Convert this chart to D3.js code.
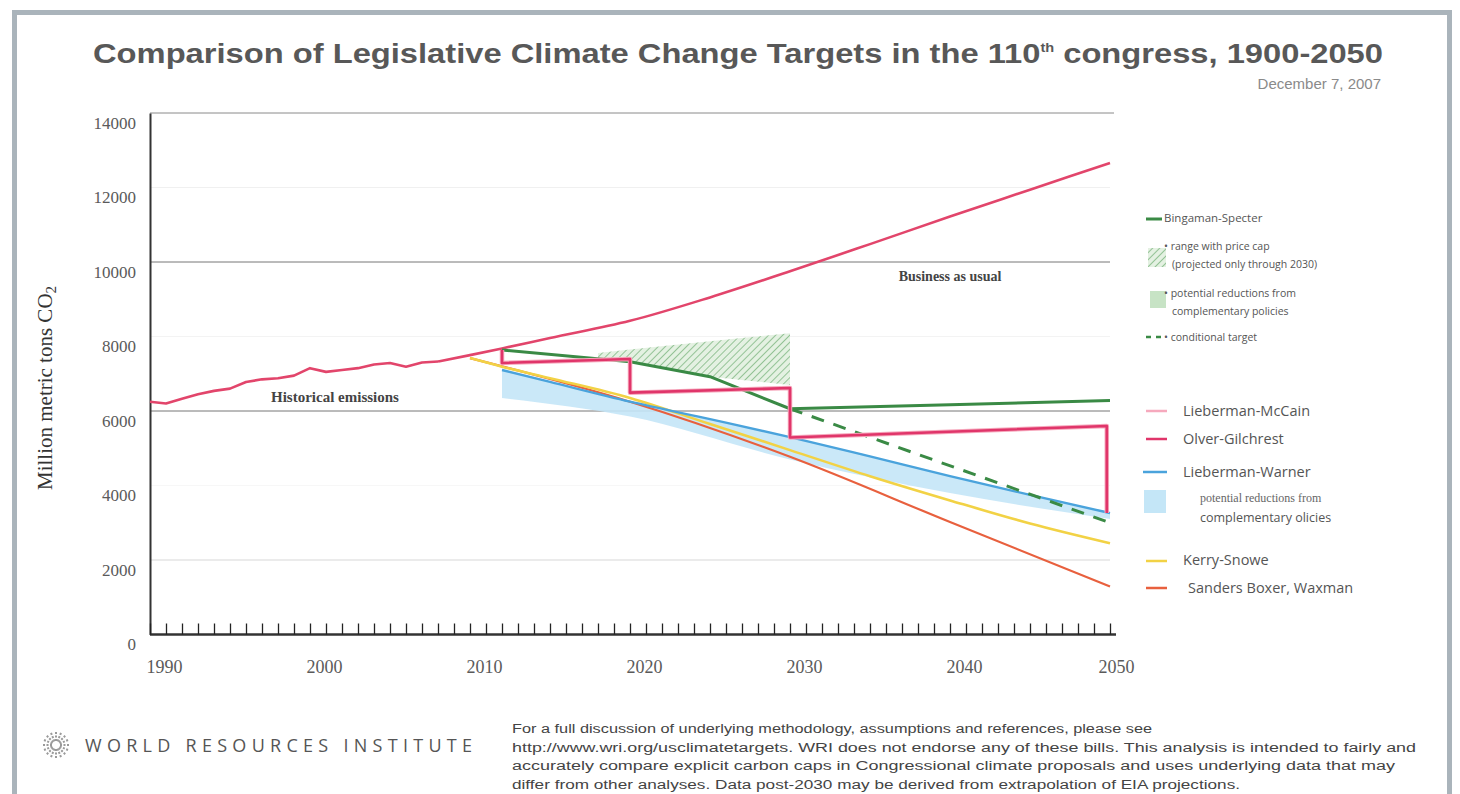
<!DOCTYPE html>
<html>
<head>
<meta charset="utf-8">
<script src="https://cdn.jsdelivr.net/npm/d3@7"></script>
<style>
  html, body { margin: 0; padding: 0; background: #ffffff; }
  svg { display: block; }
</style>
</head>
<body>
<script>
// ---------------- DATA ----------------
const yTicks = [0, 2000, 4000, 6000, 8000, 10000, 12000, 14000];
const xLabelYears = [1990, 2000, 2010, 2020, 2030, 2040, 2050];
const xMinorYears = d3.range(1990, 2051);

const histYears = [1990,1991,1992,1993,1994,1995,1996,1997,1998,1999,2000,2001,2002,2003,2004,2005,2006,2007,2008];
const histValues = [6250,6200,6330,6450,6540,6600,6780,6850,6880,6950,7150,7050,7100,7150,7250,7290,7190,7300,7330];

const bauYears = [2008,2010,2012,2015,2020,2025,2030,2035,2040,2045,2050];
const bauValues = [7330,7500,7680,7960,8420,9050,9750,10480,11220,11940,12660];

const bingYears = [2012,2020,2025,2030,2040,2050];
const bingValues = [7640,7320,6920,6060,6170,6280];

const condYears = [2030,2050];
const condValues = [6060,3000];

const hatchYears = [2018,2020,2025,2030];
const hatchTop = [7560,7650,7870,8090];
const hatchBottom = [7400,7320,6920,6700];

const lmYears = [2012,2012,2020,2020,2030,2030,2049.8,2049.8];
const lmValues = [7640,7290,7396,6492,6617,5290,5597,3262];
const ogYears = [2012,2012,2020,2020,2030,2030,2049.8,2049.8];
const ogValues = [7640,7290,7396,6492,6617,5290,5597,3262];

const lwYears = [2012,2015,2020,2025,2030,2035,2040,2045,2050];
const lwValues = [7100,6780,6250,5780,5300,4780,4250,3750,3260];

const bandYears = [2012,2020,2030,2040,2050];
const bandHigh = [7100,6250,5300,4250,3260];
const bandLow = [6350,5850,4700,3800,3100];

const ksYears = [2010,2012,2015,2020,2025,2030,2035,2040,2045,2050];
const ksValues = [7420,7190,6880,6350,5650,4950,4250,3600,2980,2450];

const sbwYears = [2010,2020,2030,2040,2050];
const sbwValues = [7420,6250,4770,3020,1290];

const footLines = [
  "For a full discussion of underlying methodology, assumptions and references, please see",
  "http://www.wri.org/usclimatetargets.  WRI does not endorse any of these bills. This analysis is intended to fairly and",
  "accurately compare explicit carbon caps in Congressional climate proposals and uses underlying data that may",
  "differ from other analyses.  Data post-2030 may be derived from extrapolation of EIA projections."
];

// ---------------- STYLE ----------------
const C = {
  bau: "#e2456b", green: "#3a8a45", og: "#e0356a", lm: "#f6a9bd",
  blue: "#4aa3dc", band: "#c4e6f7", yellow: "#f2d245", orange: "#e8603e",
  text: "#555", axis: "#333"
};

const W = 1460, H = 794;
const svg = d3.select("body").append("svg").attr("width", W).attr("height", H);

// outer frame
svg.append("rect").attr("x", 14.5).attr("y", 12.5).attr("width", 1435).attr("height", 786)
  .attr("fill", "none").attr("stroke", "#aab4bb").attr("stroke-width", 5);

const x = d3.scaleLinear().domain([1990, 2050]).range([150, 1110]);
const y = d3.scaleLinear().domain([0, 14000]).range([634.5, 113]);

// title
const title = svg.append("text").attr("x", 93).attr("y", 63)
  .attr("font-family", "'Liberation Sans Narrow','Liberation Sans',Arial,sans-serif")
  .attr("font-weight", "bold").attr("font-size", 27).attr("fill", "#585858")
  .attr("textLength", 1290).attr("lengthAdjust", "spacingAndGlyphs");
title.append("tspan").text("Comparison of Legislative Climate Change Targets in the 110");
title.append("tspan").attr("font-size", 12).attr("dy", -11).text("th");
title.append("tspan").attr("dy", 11).text(" congress, 1900-2050");

svg.append("text").attr("x", 1381).attr("y", 89).attr("text-anchor", "end")
  .attr("font-family", "'Liberation Sans Narrow','Liberation Sans',Arial,sans-serif")
  .attr("font-size", 15).attr("fill", "#8a8a8a").text("December 7, 2007");

// defs: hatch pattern
const defs = svg.append("defs");
const pat = defs.append("pattern").attr("id", "hatch").attr("patternUnits", "userSpaceOnUse")
  .attr("width", 5).attr("height", 5).attr("patternTransform", "rotate(45)");
pat.append("rect").attr("width", 5).attr("height", 5).attr("fill", "#e4f1e2");
pat.append("line").attr("x1", 0).attr("y1", 0).attr("x2", 0).attr("y2", 5)
  .attr("stroke", "#7fb883").attr("stroke-width", 1.6);

// gridlines
const g = svg.append("g");
const gridStyle = { 2000: ["#d8d8d8", 1.2], 6000: ["#777", 1], 10000: ["#777", 1], 12000: ["#f0f0f0", 1], 8000: ["#f3f3f3", 1], 4000: ["#f7f7f7", 1] };
g.selectAll("line.grid").data(yTicks.filter(v => gridStyle[v])).join("line")
  .attr("x1", x(1990)).attr("x2", x(2050))
  .attr("y1", d => y(d)).attr("y2", d => y(d))
  .attr("stroke", d => gridStyle[d][0]).attr("stroke-width", d => gridStyle[d][1]);
// top frame line
g.append("line").attr("x1", x(1990)).attr("x2", x(2050) + 4).attr("y1", y(14000)).attr("y2", y(14000))
  .attr("stroke", "#8a8a8a").attr("stroke-width", 1);

// y axis
const yAxis = d3.axisLeft(y).tickValues(yTicks).tickSize(0).tickPadding(14).tickFormat(d3.format("d"));
const yg = svg.append("g").attr("transform", `translate(${x(1990)},0)`).call(yAxis);
yg.select(".domain").attr("stroke", C.axis).attr("stroke-width", 2);
yg.selectAll("text").attr("font-family", "'Liberation Serif','Times New Roman',serif")
  .attr("font-size", 17).attr("fill", "#5a5a5a").attr("dy", "0.9em");

// x axis minor ticks (pointing up)
const xMinor = d3.axisBottom(x).tickValues(xMinorYears).tickSize(-11).tickFormat("");
const xg = svg.append("g").attr("transform", `translate(0,${y(0)})`).call(xMinor);
xg.select(".domain").attr("stroke", C.axis).attr("stroke-width", 2.5).attr("d", `M${x(1990)},0H${x(2050) + 6}`);
xg.selectAll(".tick line").attr("stroke", "#222").attr("stroke-width", 1.3);

const xLab = d3.axisBottom(x).tickValues(xLabelYears).tickSize(0).tickPadding(26).tickFormat(d3.format("d"));
const xl = svg.append("g").attr("transform", `translate(0,${y(0)})`).call(xLab);
xl.select(".domain").remove();
xl.selectAll("text").attr("font-family", "'Liberation Serif','Times New Roman',serif")
  .attr("font-size", 18).attr("fill", "#5a5a5a").attr("dx", d => d === 2050 ? 6 : 14);

// y axis title
svg.append("text").attr("transform", "translate(52,388) rotate(-90)").attr("text-anchor", "middle")
  .attr("font-family", "'Liberation Serif','Times New Roman',serif").attr("font-size", 21)
  .attr("fill", "#333").html("Million metric tons CO<tspan font-size='15' dy='4'>2</tspan>");

const line = d3.line().x(d => x(d[0])).y(d => y(d[1]));
const smooth = d3.line().x(d => x(d[0])).y(d => y(d[1])).curve(d3.curveMonotoneX);

// blue band
svg.append("path").datum(d3.zip(bandYears, bandHigh, bandLow))
  .attr("d", d3.area().x(d => x(d[0])).y0(d => y(d[2])).y1(d => y(d[1])).curve(d3.curveMonotoneX))
  .attr("fill", C.band).attr("opacity", 0.9);

// hatched region
svg.append("path").datum(d3.zip(hatchYears, hatchTop, hatchBottom))
  .attr("d", d3.area().x(d => x(d[0])).y0(d => y(d[2])).y1(d => y(d[1])))
  .attr("fill", "url(#hatch)");

// historical + BAU
svg.append("path").datum(d3.zip(histYears, histValues)).attr("d", line)
  .attr("fill", "none").attr("stroke", C.bau).attr("stroke-width", 2.6).attr("stroke-linejoin", "round");
svg.append("path").datum(d3.zip(bauYears, bauValues)).attr("d", smooth)
  .attr("fill", "none").attr("stroke", C.bau).attr("stroke-width", 2.6);

// Kerry-Snowe, Sanders
svg.append("path").datum(d3.zip(sbwYears, sbwValues)).attr("d", smooth)
  .attr("fill", "none").attr("stroke", C.orange).attr("stroke-width", 2.2);
svg.append("path").datum(d3.zip(ksYears, ksValues)).attr("d", smooth)
  .attr("fill", "none").attr("stroke", C.yellow).attr("stroke-width", 2.6);

// Lieberman-Warner
svg.append("path").datum(d3.zip(lwYears, lwValues)).attr("d", smooth)
  .attr("fill", "none").attr("stroke", C.blue).attr("stroke-width", 2.4);

// Bingaman
svg.append("path").datum(d3.zip(bingYears, bingValues)).attr("d", line)
  .attr("fill", "none").attr("stroke", C.green).attr("stroke-width", 3).attr("stroke-linejoin", "round");
svg.append("path").datum(d3.zip(condYears, condValues)).attr("d", line)
  .attr("fill", "none").attr("stroke", C.green).attr("stroke-width", 3).attr("stroke-dasharray", "13,10");

// Lieberman-McCain / Olver-Gilchrest
svg.append("path").datum(d3.zip(lmYears, lmValues)).attr("d", line)
  .attr("fill", "none").attr("stroke", C.lm).attr("stroke-width", 4.5).attr("stroke-linejoin", "round");
svg.append("path").datum(d3.zip(ogYears, ogValues)).attr("d", line)
  .attr("fill", "none").attr("stroke", C.og).attr("stroke-width", 2.6).attr("stroke-linejoin", "round");

// annotations
svg.append("text").attr("x", 335).attr("y", 402).attr("text-anchor", "middle")
  .attr("font-family", "'Liberation Serif','Times New Roman',serif").attr("font-weight", "bold")
  .attr("font-size", 15).attr("fill", "#444").text("Historical emissions");
svg.append("text").attr("x", 950).attr("y", 281).attr("text-anchor", "middle")
  .attr("font-family", "'Liberation Serif','Times New Roman',serif").attr("font-weight", "bold")
  .attr("font-size", 14).attr("fill", "#444").text("Business as usual");

// legend
const lf = "'Open Sans','Noto Sans',sans-serif";
const leg = svg.append("g");
function legLine(x1, x2, yy, color, w, dash) {
  const l = leg.append("line").attr("x1", x1).attr("x2", x2).attr("y1", yy).attr("y2", yy)
    .attr("stroke", color).attr("stroke-width", w);
  if (dash) l.attr("stroke-dasharray", dash);
}
function legText(xx, yy, t, fs, fam, fill) {
  leg.append("text").attr("x", xx).attr("y", yy).attr("dy", "0.35em")
    .attr("font-family", fam || lf).attr("font-size", fs).attr("fill", fill || "#555").text(t);
}
legLine(1146, 1162, 219, C.green, 3);
legText(1164, 218, "Bingaman-Specter", 11.5);
leg.append("rect").attr("x", 1148).attr("y", 248).attr("width", 18).attr("height", 19).attr("fill", "url(#hatch)");
legText(1164, 246, "• range with price cap", 10.5);
legText(1172, 264, "(projected only through 2030)", 10.5);
leg.append("rect").attr("x", 1150).attr("y", 291).attr("width", 16).attr("height", 17).attr("fill", "#c7e3c5");
legText(1164, 293, "• potential reductions from", 10.5);
legText(1172, 311, "complementary policies", 10.5);
legLine(1146, 1162, 337, C.green, 2.5, "5,5");
legText(1164, 337, "• conditional target", 10.5);

legLine(1146, 1167, 411, C.lm, 2.5);
legText(1183, 411, "Lieberman-McCain", 14.5);
legLine(1146, 1167, 439, C.og, 2.5);
legText(1183, 439, "Olver-Gilchrest", 14.5);
legLine(1143, 1167, 472, C.blue, 2.5);
legText(1183, 472, "Lieberman-Warner", 14.5);
leg.append("rect").attr("x", 1144).attr("y", 490).attr("width", 22).attr("height", 23).attr("fill", C.band);
legText(1200, 498, "potential reductions from", 12, "'Liberation Serif',serif", "#666");
legText(1200, 518, "complementary olicies", 12.5, lf, "#555");
legLine(1146, 1167, 561, C.yellow, 2.5);
legText(1183, 560, "Kerry-Snowe", 14.5);
legLine(1146, 1167, 588, C.orange, 2.5);
legText(1188, 588, "Sanders Boxer, Waxman", 14.5);

// footnote
const widths = [640, 904, 883, 728];
svg.append("g").selectAll("text").data(footLines).join("text")
  .attr("x", 512).attr("y", (d, i) => 733 + i * 18.5)
  .attr("font-family", "'Liberation Sans',Arial,sans-serif").attr("font-size", 12).attr("fill", "#444")
  .attr("textLength", (d, i) => widths[i]).attr("lengthAdjust", "spacingAndGlyphs")
  .text(d => d);

// logo
const logo = svg.append("g").attr("transform", "translate(56,745)");
d3.range(16).forEach(i => {
  const a = i * Math.PI / 8;
  logo.append("line").attr("x1", 4 * Math.cos(a)).attr("y1", 4 * Math.sin(a))
    .attr("x2", 14 * Math.cos(a)).attr("y2", 14 * Math.sin(a))
    .attr("stroke", "#9a9a9a").attr("stroke-width", 2).attr("stroke-dasharray", "2,1.5");
});
svg.append("text").attr("x", 85).attr("y", 752)
  .attr("font-family", "'Open Sans','Lato',sans-serif").attr("font-size", 18).attr("fill", "#555")
  .attr("textLength", 387).attr("lengthAdjust", "spacing").text("WORLD RESOURCES INSTITUTE");
</script>
</body>
</html>
